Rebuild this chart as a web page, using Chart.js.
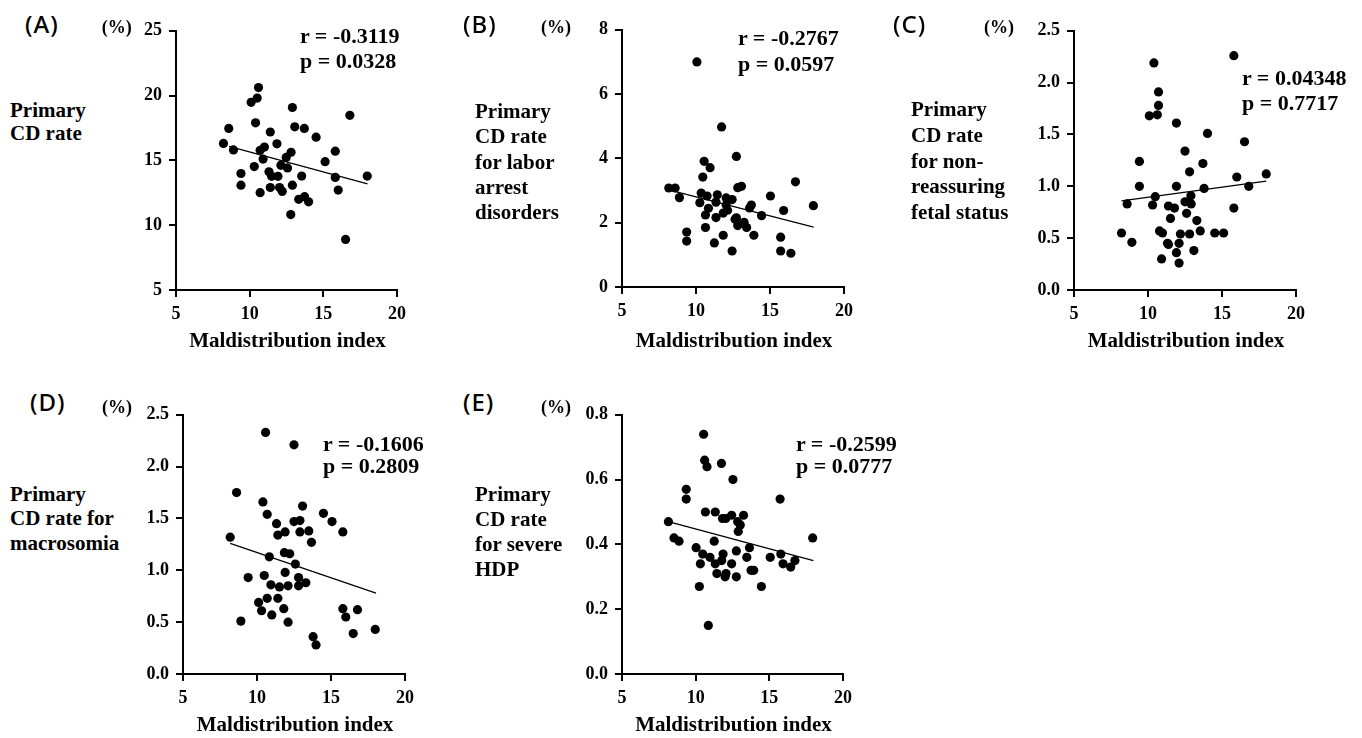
<!DOCTYPE html>
<html>
<head>
<meta charset="utf-8">
<script src="https://cdn.jsdelivr.net/npm/chart.js@4.4.0/dist/chart.umd.min.js"></script>
<style>
  body { margin: 0; background: #fff; width: 1362px; height: 738px; position: relative; overflow: hidden; }
  canvas { position: absolute; }
  .serif { position: absolute; font-family: "Liberation Serif", "Times New Roman", serif; font-weight: bold; color: #000; white-space: nowrap; }
  .letter { position: absolute; font-family: "Noto Sans", sans-serif; font-weight: 500; font-size: 24px; line-height: 24px; color: #000; letter-spacing: 1px; }
</style>
</head>
<body>
<script>
// shared x axis
const xTicks = [5, 10, 15, 20];

// (A) primary CD rate
const maldistA = [8.22, 8.58, 8.90, 9.41, 9.41, 10.10, 10.51, 10.60, 10.40, 10.31, 10.71, 10.71, 11.00, 10.91, 11.40, 11.31, 11.49, 11.40, 11.85, 11.92, 12.03, 12.21, 12.12, 12.48, 12.57, 12.81, 12.90, 13.06, 12.90, 12.79, 13.33, 13.73, 14.00, 13.53, 13.71, 14.51, 15.12, 15.81, 15.81, 16.01, 16.80, 16.51, 17.98];
const rateA = [16.31, 17.47, 15.81, 13.99, 13.09, 19.48, 19.81, 20.62, 17.90, 14.52, 12.51, 15.78, 16.03, 15.10, 17.19, 14.12, 13.77, 12.91, 16.28, 13.77, 12.91, 12.61, 14.62, 15.23, 14.42, 15.63, 19.08, 17.59, 13.09, 10.82, 12.00, 12.20, 11.80, 13.79, 17.47, 16.79, 14.90, 15.71, 13.69, 12.71, 18.48, 8.90, 13.79];
const trendXA = [8.6, 18.0];
const trendYA = [16.08, 13.19];
const yTicksA = [5, 10, 15, 20, 25];

// (B) labor arrest disorders
const maldistB = [8.16, 8.59, 8.88, 9.37, 9.37, 10.06, 10.55, 10.46, 10.95, 10.35, 10.75, 10.26, 10.84, 10.64, 10.64, 11.44, 11.35, 11.35, 11.24, 11.73, 12.04, 12.44, 12.04, 12.13, 11.84, 11.84, 12.44, 12.73, 12.82, 13.07, 12.64, 12.73, 12.82, 13.25, 13.42, 13.74, 13.62, 13.91, 14.43, 15.03, 15.72, 15.72, 15.92, 16.41, 16.72, 17.93];
const rateB = [3.08, 3.08, 2.78, 1.71, 1.43, 7.00, 3.91, 3.42, 3.71, 2.92, 2.83, 2.62, 2.45, 2.24, 1.85, 2.87, 2.64, 2.16, 1.37, 4.98, 2.77, 2.72, 2.55, 2.39, 2.30, 1.61, 1.12, 4.06, 3.09, 3.13, 2.11, 2.15, 1.91, 2.01, 1.85, 2.55, 2.46, 1.61, 2.22, 2.83, 1.55, 1.12, 2.38, 1.05, 3.27, 2.53];
const trendXB = [8.23, 17.95];
const trendYB = [3.01, 1.86];
const yTicksB = [0, 2, 4, 6, 8];

// (C) non-reassuring fetal status
const maldistC = [8.21, 8.59, 8.91, 9.42, 9.42, 10.40, 10.09, 10.63, 10.71, 10.71, 10.49, 10.31, 10.78, 10.98, 10.92, 11.32, 11.38, 11.38, 11.79, 11.52, 11.92, 11.92, 12.19, 12.10, 11.92, 12.10, 12.50, 12.81, 12.50, 12.90, 12.92, 12.61, 12.81, 13.10, 13.30, 13.53, 13.71, 13.79, 14.02, 14.51, 15.11, 15.80, 15.80, 16.00, 16.52, 16.81, 17.99];
const rateC = [0.55, 0.83, 0.46, 1.24, 1.00, 2.19, 1.68, 1.69, 1.78, 1.91, 0.90, 0.82, 0.57, 0.55, 0.30, 0.45, 0.44, 0.81, 0.79, 0.69, 1.61, 1.00, 0.54, 0.45, 0.36, 0.26, 1.34, 1.14, 0.85, 0.91, 0.83, 0.74, 0.54, 0.38, 0.67, 0.57, 1.22, 0.98, 1.51, 0.55, 0.55, 2.26, 0.79, 1.09, 1.43, 1.00, 1.12];
const trendXC = [8.21, 17.99];
const trendYC = [0.86, 1.05];
const yTicksC = [0, 0.5, 1.0, 1.5, 2.0, 2.5];

// (D) macrosomia
const maldistD = [8.19, 8.62, 8.91, 9.40, 10.58, 10.40, 10.69, 10.83, 10.49, 10.11, 10.31, 10.69, 11.00, 10.94, 11.32, 11.41, 11.90, 11.41, 11.52, 11.85, 12.21, 11.90, 11.81, 12.10, 12.10, 12.50, 12.50, 12.90, 13.08, 12.90, 12.59, 12.81, 12.81, 13.30, 13.50, 13.68, 13.79, 13.99, 14.49, 15.07, 15.80, 15.80, 16.00, 16.79, 16.50, 17.99];
const rateD = [1.32, 1.75, 0.51, 0.93, 2.33, 1.66, 1.54, 1.13, 0.95, 0.69, 0.61, 0.73, 0.57, 0.86, 1.45, 1.34, 1.37, 0.73, 0.84, 1.17, 1.16, 0.98, 0.63, 0.85, 0.50, 2.21, 1.47, 1.48, 1.62, 1.37, 1.06, 0.93, 0.85, 0.88, 1.38, 1.27, 0.36, 0.28, 1.55, 1.47, 1.37, 0.63, 0.55, 0.62, 0.39, 0.43];
const trendXD = [8.19, 18.04];
const trendYD = [1.26, 0.78];
const yTicksD = [0, 0.5, 1.0, 1.5, 2.0, 2.5];

// (E) severe HDP
const maldistE = [8.15, 8.53, 8.87, 9.36, 9.36, 10.54, 10.61, 10.77, 11.75, 12.53, 10.66, 11.33, 11.26, 10.03, 10.48, 10.32, 10.25, 10.86, 10.97, 11.33, 11.44, 11.86, 11.77, 12.00, 12.06, 12.44, 12.76, 12.76, 11.82, 12.04, 12.44, 12.85, 13.03, 12.89, 13.25, 13.47, 13.65, 13.76, 13.94, 14.46, 15.06, 15.73, 15.78, 15.93, 16.45, 16.74, 17.94];
const rateE = [0.47, 0.42, 0.41, 0.57, 0.54, 0.74, 0.66, 0.64, 0.65, 0.60, 0.50, 0.50, 0.41, 0.39, 0.37, 0.34, 0.27, 0.15, 0.36, 0.34, 0.31, 0.37, 0.35, 0.30, 0.31, 0.34, 0.38, 0.30, 0.48, 0.48, 0.49, 0.47, 0.46, 0.44, 0.49, 0.36, 0.39, 0.32, 0.32, 0.27, 0.36, 0.54, 0.37, 0.34, 0.33, 0.35, 0.42];
const trendXE = [8.15, 17.99];
const trendYE = [0.47, 0.35];
const yTicksE = [0, 0.2, 0.4, 0.6, 0.8];

const tickFont = { family: '"Liberation Serif", "Times New Roman", serif', size: 18, weight: 'bold' };

function axis(ticks, dir, dec) {
  return {
    type: 'linear',
    min: ticks[0],
    max: ticks[ticks.length - 1],
    afterBuildTicks: s => { s.ticks = ticks.map(v => ({ value: v })); },
    afterFit: s => { if (dir === 'x') s.height = 40; else s.width = 55; },
    grid: { drawOnChartArea: false, drawTicks: true, tickLength: 7, color: '#000', lineWidth: 2 },
    border: { display: true, color: '#000', width: 2 },
    ticks: {
      color: '#000',
      padding: 7,
      font: tickFont,
      callback: v => dec ? Number(v).toFixed(dec) : String(v)
    }
  };
}

function makePanel(p) {
  const cv = document.createElement('canvas');
  cv.width = p.w;
  cv.height = p.h;
  cv.style.left = p.left + 'px';
  cv.style.top = p.top + 'px';
  document.body.appendChild(cv);

  new Chart(cv, {
    type: 'scatter',
    data: {
      datasets: [
        {
          data: p.xs.map((x, i) => ({ x: x, y: p.ys[i] })),
          backgroundColor: '#000',
          pointRadius: 4.6,
          borderWidth: 0
        },
        {
          data: p.tx.map((x, i) => ({ x: x, y: p.ty[i] })),
          showLine: true,
          borderColor: '#000',
          borderWidth: 1.3,
          pointRadius: 0,
          fill: false
        }
      ]
    },
    options: {
      responsive: false,
      animation: false,
      plugins: { legend: { display: false }, tooltip: { enabled: false } },
      layout: { padding: { top: 12, right: 14, left: 0, bottom: 0 } },
      scales: {
        x: axis(xTicks, 'x', 0),
        y: axis(p.yTicks, 'y', p.dec)
      }
    }
  });
}

function addText(html, left, top, size, lh, cls, width, align) {
  const d = document.createElement('div');
  d.className = cls;
  d.innerHTML = html;
  d.style.left = left + 'px';
  d.style.top = top + 'px';
  if (size) { d.style.fontSize = size + 'px'; d.style.lineHeight = lh + 'px'; }
  if (width) { d.style.width = width + 'px'; d.style.textAlign = align; }
  document.body.appendChild(d);
}

const panels = [
  { left: 121, top: 13, w: 292, h: 317, xs: maldistA, ys: rateA, tx: trendXA, ty: trendYA, yTicks: yTicksA, dec: 0,
    letter: '(A)', lx: 25, ly: 12, pct: [116.7, 28], title: 'Primary<br>CD rate', tt: [10, 98.5], tlh: 23.5,
    r: 'r = -0.3119', p: 'p = 0.0328', rp: [300, 35.8, 60.8], xt: [287.5, 341] },
  { left: 567, top: 12, w: 293, h: 315, xs: maldistB, ys: rateB, tx: trendXB, ty: trendYB, yTicks: yTicksB, dec: 0,
    letter: '(B)', lx: 463, ly: 12, pct: [556, 28], title: 'Primary<br>CD rate<br>for labor<br>arrest<br>disorders', tt: [475, 99], tlh: 25.3,
    r: 'r = -0.2767', p: 'p = 0.0597', rp: [738, 37.5, 63.5], xt: [734, 341] },
  { left: 1019, top: 13, w: 293, h: 317, xs: maldistC, ys: rateC, tx: trendXC, ty: trendYC, yTicks: yTicksC, dec: 1,
    letter: '(C)', lx: 893, ly: 12, pct: [999, 28], title: 'Primary<br>CD rate<br>for non-<br>reassuring<br>fetal status', tt: [911, 97], tlh: 25.8,
    r: 'r = 0.04348', p: 'p = 0.7717', rp: [1242, 77.5, 102.5], xt: [1186, 341] },
  { left: 128, top: 397, w: 293, h: 317, xs: maldistD, ys: rateD, tx: trendXD, ty: trendYD, yTicks: yTicksD, dec: 1,
    letter: '(D)', lx: 30, ly: 390, pct: [117, 408], title: 'Primary<br>CD rate for<br>macrosomia', tt: [10, 481.5], tlh: 24.5,
    r: 'r = -0.1606', p: 'p = 0.2809', rp: [323, 444, 466], xt: [295, 725] },
  { left: 567, top: 397, w: 292, h: 317, xs: maldistE, ys: rateE, tx: trendXE, ty: trendYE, yTicks: yTicksE, dec: 1,
    letter: '(E)', lx: 463, ly: 390, pct: [556, 408], title: 'Primary<br>CD rate<br>for severe<br>HDP', tt: [475, 481.5], tlh: 25.2,
    r: 'r = -0.2599', p: 'p = 0.0777', rp: [796, 444, 466], xt: [733.5, 725] }
];

panels.forEach(p => {
  makePanel(p);
  addText(p.letter, p.lx, p.ly, 0, 0, 'letter');
  addText('(%)', p.pct[0] - 20, p.pct[1] - 11.6, 18, 22, 'serif', 40, 'center');
  addText(p.title, p.tt[0], p.tt[1], 21, p.tlh, 'serif');
  addText(p.r, p.rp[0], p.rp[1] - 11, 22, 22, 'serif');
  addText(p.p, p.rp[0], p.rp[2] - 11, 22, 22, 'serif');
  addText('Maldistribution index', p.xt[0] - 150, p.xt[1] - 10.6, 21, 21, 'serif', 300, 'center');
});
</script>
</body>
</html>
